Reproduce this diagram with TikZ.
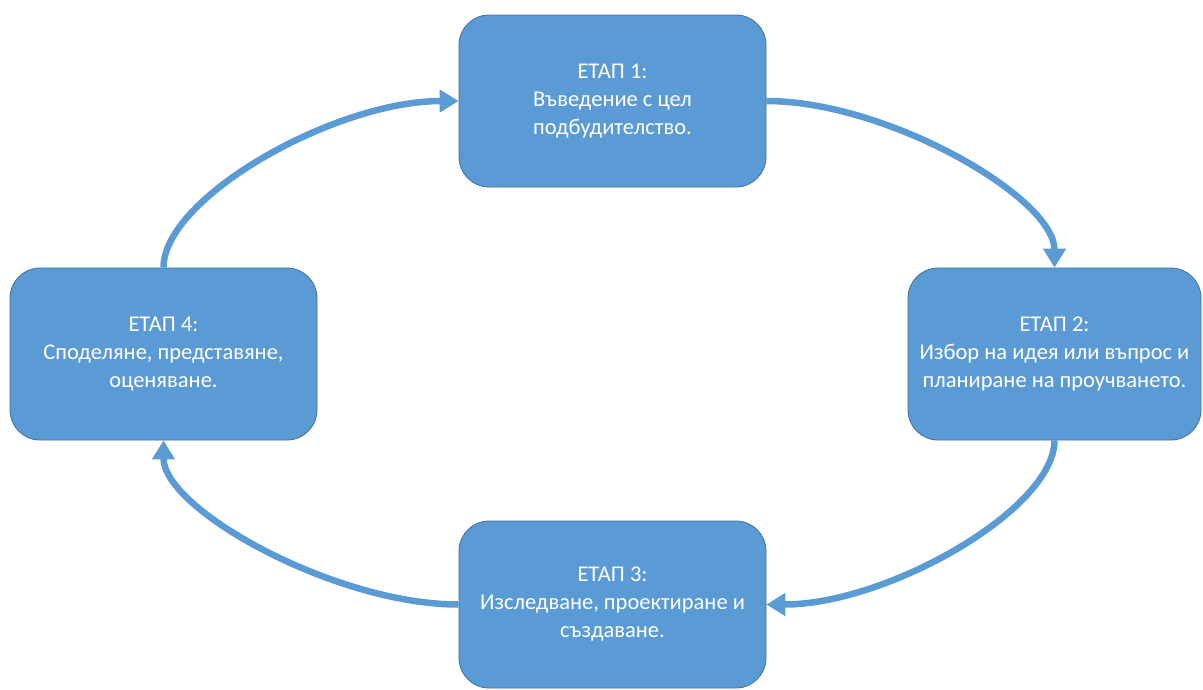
\documentclass[tikz,border=0pt]{standalone}
\usepackage{fontspec}
\setmainfont{Carlito}
\usetikzlibrary{arrows.meta,calc}
\definecolor{boxblue}{HTML}{5B9BD5}
\definecolor{boxedge}{HTML}{41719C}
\tikzset{
  stagebox/.style={draw=boxedge, line width=0.8pt, fill=boxblue, rounded corners=30pt,
    text=white, align=center, inner sep=0pt,
    font=\fontsize{22.5}{28}\selectfont},
  cyclearrow/.style={draw=boxblue, line width=6.5pt,
    -{Triangle[width=22pt,length=19pt]}},
}
\begin{document}
\begin{tikzpicture}[x=1pt,y=-1pt]
\useasboundingbox (0,0) rectangle (1203,689);
\node[stagebox, minimum width=307pt, minimum height=172pt] (s1) at (612.5,101) {ЕТАП 1:\\Въведение с цел\\подбудителство.};
\node[stagebox, minimum width=293pt, minimum height=172pt] (s2) at (1054.5,354) {ЕТАП 2:\\Избор на идея или въпрос и\\планиране на проучването.};
\node[stagebox, minimum width=307pt, minimum height=167pt] (s3) at (612.5,604.5) {ЕТАП 3:\\Изследване, проектиране и\\създаване.};
\node[stagebox, minimum width=307pt, minimum height=172pt] (s4) at (163.5,354) {ЕТАП 4:\\Споделяне, представяне,\\оценяване.};
% corner coordinates for the curved connectors
\coordinate (c12) at (s2.north |- s1.east);
\coordinate (c23) at (s2.south |- s3.east);
\coordinate (c34) at (s4.south |- s3.west);
\coordinate (c41) at (s4.north |- s1.west);
\def\kk{0.42}
\path[cyclearrow] (s1.east) .. controls ($(s1.east)!\kk!(c12)$) and ($(s2.north)!\kk!(c12)$) .. (s2.north);
\path[cyclearrow] (s2.south) .. controls ($(s2.south)!\kk!(c23)$) and ($(s3.east)!\kk!(c23)$) .. (s3.east);
\path[cyclearrow] (s3.west) .. controls ($(s3.west)!\kk!(c34)$) and ($(s4.south)!\kk!(c34)$) .. (s4.south);
\path[cyclearrow] (s4.north) .. controls ($(s4.north)!\kk!(c41)$) and ($(s1.west)!\kk!(c41)$) .. (s1.west);
\end{tikzpicture}
\end{document}
